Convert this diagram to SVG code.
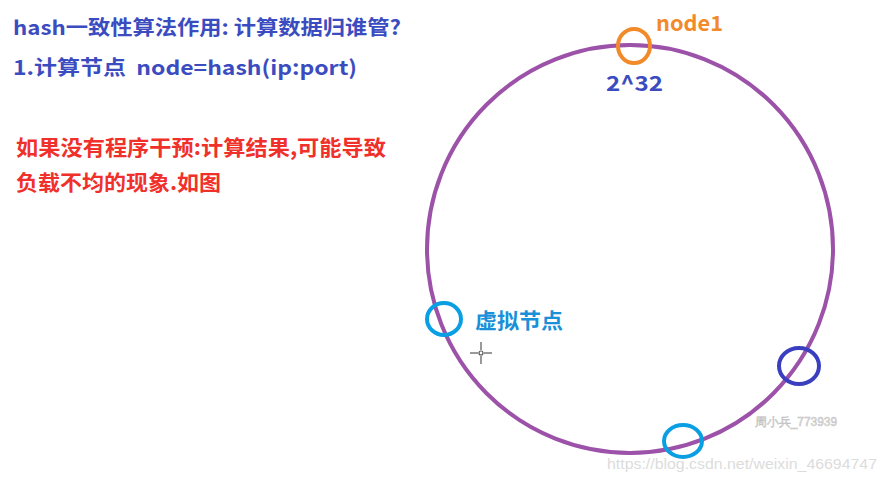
<svg xmlns="http://www.w3.org/2000/svg" width="887" height="481" viewBox="0 0 887 481">
<style>
.t{font-family:"Noto Sans CJK SC","Noto Sans",sans-serif;font-weight:bold}
.blue{fill:#3b4cc0}
.red{fill:#f0302a}
.ring{fill:none;stroke-width:4}
.wm{font-family:"Liberation Sans",Arial,sans-serif}
</style>
<rect width="887" height="481" fill="#ffffff"/>
<g id="texts">
<text class="t blue" x="13" y="35" font-size="20" textLength="388" lengthAdjust="spacingAndGlyphs">hash一致性算法作用: 计算数据归谁管?</text>
<text class="t blue" x="13" y="75" font-size="20" textLength="344" lengthAdjust="spacingAndGlyphs" xml:space="preserve">1.计算节点  node=hash(ip:port)</text>
<text class="t red" x="16" y="155" font-size="21" textLength="370" lengthAdjust="spacingAndGlyphs">如果没有程序干预:计算结果,可能导致</text>
<text class="t red" x="16" y="190" font-size="21" textLength="205" lengthAdjust="spacingAndGlyphs">负载不均的现象.如图</text>
</g>
<g id="hash-ring">
<ellipse cx="630" cy="249" rx="203" ry="204" fill="none" stroke="#9c52a8" stroke-width="4"/>
</g>
<g id="node1">
<ellipse class="ring" cx="634" cy="46" rx="16" ry="17" stroke="#f28a2a"/>
<text class="t" x="656" y="31" font-size="21" fill="#f28a2a" textLength="67" lengthAdjust="spacingAndGlyphs">node1</text>
<text class="t blue" x="606" y="91" font-size="21" textLength="57" lengthAdjust="spacingAndGlyphs">2^32</text>
</g>
<g id="virtual-node-left">
<ellipse class="ring" cx="444" cy="319" rx="17" ry="16" stroke="#0a9ee3"/>
<text class="t" x="475" y="328" font-size="21" fill="#1a90d8" textLength="88" lengthAdjust="spacingAndGlyphs">虚拟节点</text>
</g>
<g id="virtual-node-right">
<ellipse class="ring" cx="799" cy="366" rx="20" ry="18" stroke="#3a3fc0"/>
</g>
<g id="virtual-node-bottom">
<ellipse class="ring" cx="683" cy="441" rx="19" ry="16" stroke="#0a9ee3"/>
</g>
<g id="cursor" stroke="#555" stroke-width="1.2" fill="none">
<line x1="470" y1="353" x2="478" y2="353"/>
<line x1="484" y1="353" x2="492" y2="353"/>
<line x1="481" y1="342" x2="481" y2="350"/>
<line x1="481" y1="356" x2="481" y2="364"/>
<circle cx="481" cy="353" r="2"/>
</g>
<g id="watermarks">
<text class="wm" x="755" y="426" font-size="12" fill="#e6e6e6" stroke="#bdbdbd" stroke-width="0.5" textLength="82" lengthAdjust="spacingAndGlyphs">周小兵_773939</text>
<text class="wm" x="607" y="469" font-size="14.5" fill="#dcdcdc" textLength="270" lengthAdjust="spacingAndGlyphs">https://blog.csdn.net/weixin_46694747</text>
</g>
</svg>
